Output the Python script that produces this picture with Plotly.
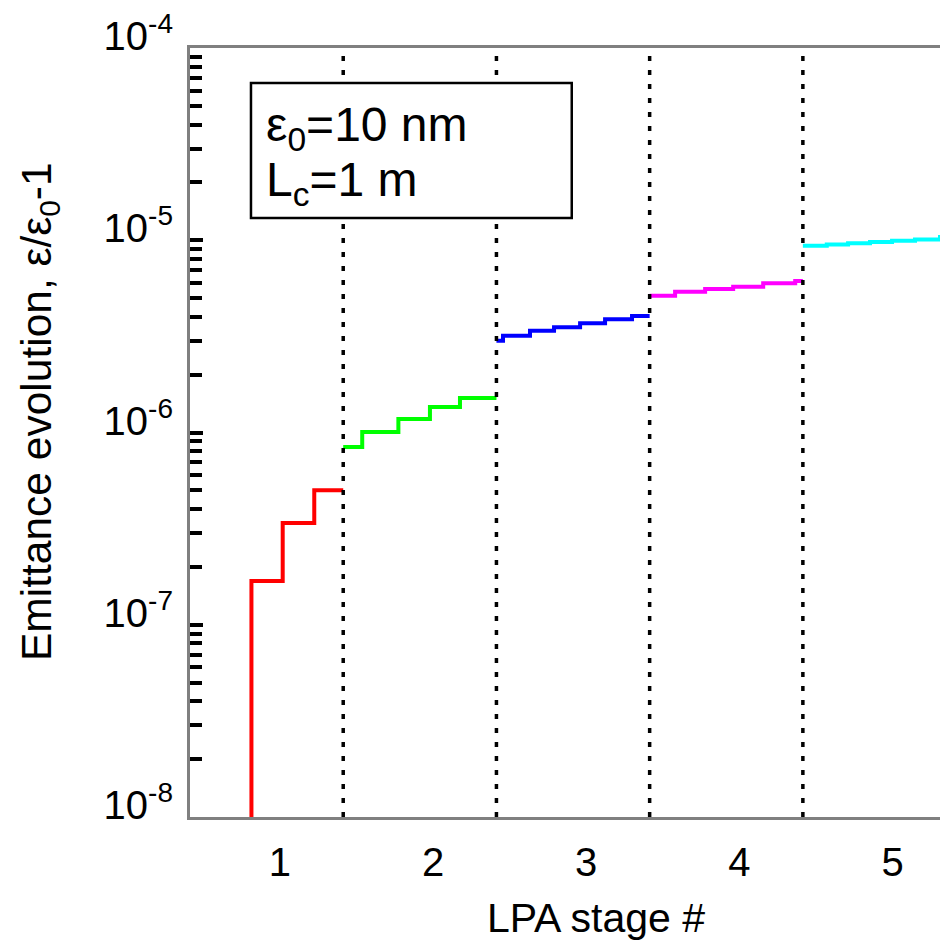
import plotly.graph_objects as go

# ---- data ----
stage_ticks = [1, 2, 3, 4, 5]
stage_labels = ["1", "2", "3", "4", "5"]
stage_boundaries = [1.414, 2.414, 3.414, 4.414]

red_x = [0.815, 0.815, 1.019, 1.225, 1.414]
red_y = [1e-9, 1.69e-7, 3.38e-7, 5.0e-7, 5.0e-7]

green_x = [1.414, 1.538, 1.774, 1.980, 2.176, 2.414]
green_y = [8.4e-7, 1.006e-6, 1.175e-6, 1.357e-6, 1.51e-6, 1.51e-6]

blue_x = [2.414, 2.457, 2.633, 2.790, 2.960, 3.123, 3.299, 3.414]
blue_y = [3.00e-6, 3.19e-6, 3.38e-6, 3.53e-6, 3.70e-6, 3.88e-6, 4.04e-6, 4.04e-6]

magenta_x = [3.414, 3.580, 3.776, 3.959, 4.155, 4.364, 4.414]
magenta_y = [5.15e-6, 5.40e-6, 5.57e-6, 5.73e-6, 5.97e-6, 6.14e-6, 6.14e-6]

cyan_x = [4.414, 4.570, 4.709, 4.852, 4.996, 5.146, 5.309, 5.45]
cyan_y = [9.35e-6, 9.50e-6, 9.65e-6, 9.80e-6, 9.95e-6, 10.1e-6, 10.4e-6, 10.4e-6]

y_tickvals = [1e-8, 1e-7, 1e-6, 1e-5, 1e-4]
y_ticktext = ["10<sup>-8</sup>", "10<sup>-7</sup>", "10<sup>-6</sup>",
              "10<sup>-5</sup>", "10<sup>-4</sup>"]
minor_mult = [2, 3, 4, 5, 6, 7, 8, 9]

box_lines = ["ε<sub>0</sub>=10 nm", "L<sub>c</sub>=1 m"]

FONT = "Liberation Sans, Arial, Helvetica, sans-serif"

fig = go.Figure()
series = [
    (red_x, red_y, "#ff0000"),
    (green_x, green_y, "#00ff00"),
    (blue_x, blue_y, "#0000ff"),
    (magenta_x, magenta_y, "#ff00ff"),
    (cyan_x, cyan_y, "#00ffff"),
]
for xs, ys, col in series:
    fig.add_trace(go.Scatter(x=xs, y=ys, mode="lines",
                             line=dict(color=col, width=4, shape="hv"),
                             showlegend=False, hoverinfo="skip"))

for b in stage_boundaries:
    fig.add_shape(type="line", xref="x", yref="paper", x0=b, x1=b, y0=0, y1=1,
                  line=dict(color="black", width=3.5, dash="5px,9px"), layer="above")

minor_vals = [m * d for d in y_tickvals[:-1] for m in minor_mult]

fig.update_layout(
    width=940, height=945,
    margin=dict(l=190, r=0, t=48, b=128),
    paper_bgcolor="white", plot_bgcolor="white",
    font=dict(family=FONT, size=40, color="black"),
    xaxis=dict(range=[0.414, 5.309], tickvals=stage_ticks, ticktext=stage_labels,
               ticks="", showgrid=False, zeroline=False, showline=True,
               linecolor="#808080", linewidth=3, mirror=True,
               tickfont=dict(size=40), ticklabelstandoff=8),
    yaxis=dict(type="log", range=[-8, -4], tickvals=y_tickvals, ticktext=y_ticktext,
               ticks="inside", ticklen=13, tickwidth=3.5, tickcolor="black",
               showgrid=False, zeroline=False, showline=True,
               linecolor="#808080", linewidth=3, mirror=False,
               tickfont=dict(size=40), ticklabelstandoff=6, ticklabelshift=-12,
               minor=dict(tickvals=minor_vals, ticks="inside", ticklen=12,
                          tickwidth=3.5, tickcolor="black", showgrid=False)),
)

# text box
fig.add_shape(type="rect", xref="paper", yref="paper",
              x0=0.0813, x1=0.509, y0=0.779, y1=0.9545,
              line=dict(color="black", width=2.5), fillcolor="white", layer="above")
for txt, ypx in zip(box_lines, [128, 183]):
    fig.add_annotation(xref="paper", yref="paper", x=(264 - 190) / 750, y=(817 - ypx) / 769,
                       xanchor="left", yanchor="middle", align="left", showarrow=False,
                       text=txt, font=dict(size=48, color="black", family=FONT))

# axis titles
fig.add_annotation(xref="paper", yref="paper", x=(596 - 190) / 750, y=-(918 - 817) / 769,
                   xanchor="center", yanchor="middle", showarrow=False,
                   text="LPA stage #", font=dict(size=41, color="black", family=FONT))
fig.add_annotation(xref="paper", yref="paper", x=-(190 - 40) / 750, y=(817 - 412) / 769,
                   xanchor="center", yanchor="middle", showarrow=False, textangle=-90,
                   text="Emittance evolution, ε/ε<sub>0</sub>-1",
                   font=dict(size=42.5, color="black", family=FONT))

fig.write_html("out.html")
